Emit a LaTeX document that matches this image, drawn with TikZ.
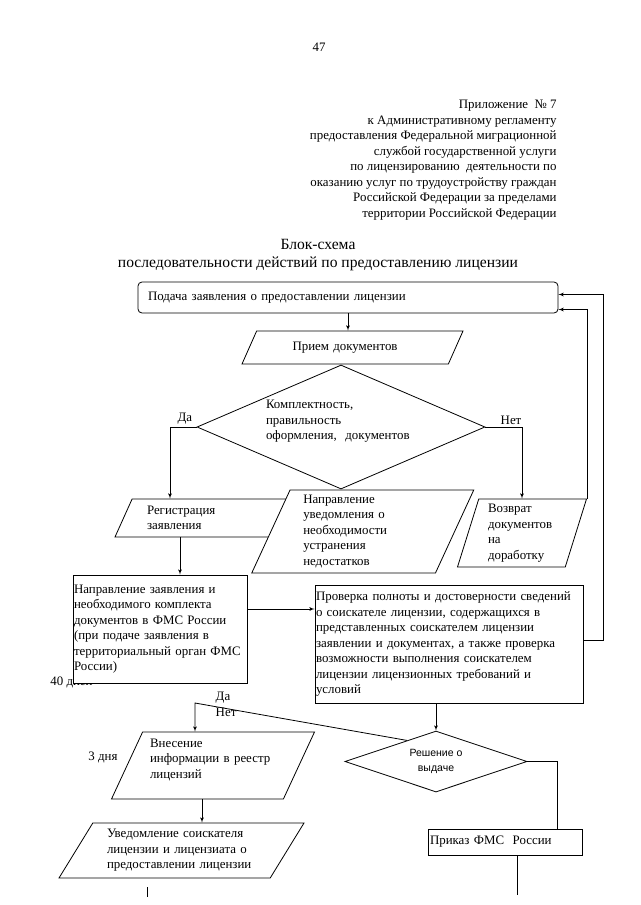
\documentclass[tikz,border=0pt]{standalone}
\usepackage{fontspec}
\setmainfont{Liberation Serif}
\setsansfont{Liberation Sans}
\usetikzlibrary{shapes.geometric, arrows}

\begin{document}
\begin{tikzpicture}[x=1pt, y=-1pt, line width=0.8pt, font=\fontsize{12.9}{15.5}\selectfont]
    % Define the style for the nodes
    \tikzstyle{block} = [rectangle, draw, fill=white, align=left, inner sep=0pt]
    \tikzstyle{io} = [trapezium, draw, fill=white, align=left, inner sep=0pt, trapezium stretches body]
    \tikzstyle{decision} = [diamond, draw, align=left, inner sep=0pt]
    \tikzstyle{line} = [draw, -latex']
    \tikzstyle{plain} = [draw]
    \tikzstyle{note} = [inner sep=0pt]

    \useasboundingbox (0,0) rectangle (640,905);

    % Place the header
    \node [note] (pagenum) at (319,47) {47};
    \node [note, align=right, anchor=north east] (appendix) at (557,100) {Приложение~ №~7\\к Административному регламенту\\предоставления Федеральной миграционной\\службой государственной услуги\\по лицензированию~ деятельности по\\оказанию услуг по трудоустройству граждан\\Российской Федерации за пределами\\территории Российской Федерации};
    \node [note, align=center, font=\fontsize{15.6}{18}\selectfont] (title) at (318,255) {Блок-схема\\последовательности действий по предоставлению лицензии};

    % Place the nodes
    \node [block, rounded corners=4pt, minimum width=420, minimum height=31, text width=400] (podacha) at (348,297.5) {Подача заявления о предоставлении лицензии};
    \node [io, trapezium left angle=37.5, trapezium right angle=142.5, minimum width=221, minimum height=33, text width=120] (priem) at (352.5,347.5) {Прием документов};
    \node [decision, aspect=2.3, minimum width=288, minimum height=124, text width=150, text depth=45pt] (komplekt) at (341,427) {Комплектность,\\правильность\\оформления,~ документов};
    \node [io, trapezium left angle=54.6, trapezium right angle=125.4, minimum width=176, minimum height=38, text width=112] (registr) at (203,518) {Регистрация\\заявления};
    \node [io, trapezium left angle=62.3, trapezium right angle=117.7, minimum width=222, minimum height=83, text width=119] (uvednedost) at (362.75,531.5) {Направление\\уведомления о\\необходимости\\устранения\\недостатков};
    \node [io, trapezium left angle=69.8, trapezium right angle=110.2, minimum width=129, minimum height=68, text width=68] (vozvrat) at (522,533) {Возврат\\документов\\на\\доработку};
    \node [note, anchor=base west] (days40) at (50,685) {40 дней};
    \node [block, minimum width=174, minimum height=108, text width=172] (naprzayav) at (160,629) {Направление заявления и\\необходимого комплекта\\документов в ФМС России\\(при подаче заявления в\\территориальный орган ФМС\\России)};
    \node [block, minimum width=268, minimum height=118, text width=266] (proverka) at (449,644) {Проверка полноты и достоверности сведений\\о соискателе лицензии, содержащихся в\\представленных соискателем лицензии\\заявлении и документах, а также проверка\\возможности выполнения соискателем\\лицензии лицензионных требований и\\условий};
    \node [decision, aspect=3, minimum width=182, minimum height=61, align=center, font=\sffamily\fontsize{10.5}{15}\selectfont] (reshenie) at (436,761.5) {Решение о\\выдаче};
    \node [note, anchor=west] (days3) at (88,757) {3 дня};
    \node [io, trapezium left angle=59.8, trapezium right angle=120.2, minimum width=203, minimum height=67, text width=126, text depth=45pt] (vnesenie) at (213,765.5) {Внесение\\информации в реестр\\лицензий};
    \node [io, trapezium left angle=51.3, trapezium right angle=128.7, minimum width=245, minimum height=55, text width=149] (uvedoml) at (181.5,850.5) {Уведомление соискателя\\лицензии и лицензиата о\\предоставлении лицензии};
    \node [block, minimum width=154, minimum height=26, text width=150] (prikaz) at (505,842) {Приказ ФМС~ России};
    \coordinate (split) at (195,703);
    \coordinate (contA) at (147,897);
    \coordinate (contB) at (517,895);

    % Connect the nodes with paths
    \path [line] (podacha.south) -- (podacha.south |- priem.north);
    \path [line] (komplekt.west) -| node [pos=0.22, above, inner sep=2pt] {Да} ([xshift=-33]registr.north);
    \path [line] (komplekt.east) -| node [pos=0.35, above, inner sep=2pt] {Нет} (vozvrat.north);
    \path [line] (vozvrat.top right corner) |- ([yshift=-12]podacha.east);
    \path [line] ([yshift=4]proverka.east) -- ++(20,0) |- ([yshift=3]podacha.east);
    \path [line] ([xshift=-23]registr.south) -- ([xshift=-23]registr.south |- naprzayav.north);
    \path [line] ([yshift=20]naprzayav.east) -- ([yshift=20]naprzayav.east -| proverka.west);
    \path [line] (proverka.south -| reshenie.north) -- (reshenie.north);
    \path [line] (reshenie.144) -- (split) node [anchor=west, xshift=17, yshift=5] {Да} node [anchor=west, xshift=17, yshift=-9] {Нет} -- (split |- vnesenie.north);
    \path [line] ([xshift=-11]vnesenie.south) -- ([xshift=-11]vnesenie.south |- uvedoml.north);
    \path [plain] ([yshift=-9]uvedoml.south -| contA) -- (contA);
    \path [plain] (reshenie.east) -| ([xshift=52]prikaz.north);
    \path [plain] (prikaz.south -| contB) -- (contB);
\end{tikzpicture}
\end{document}
